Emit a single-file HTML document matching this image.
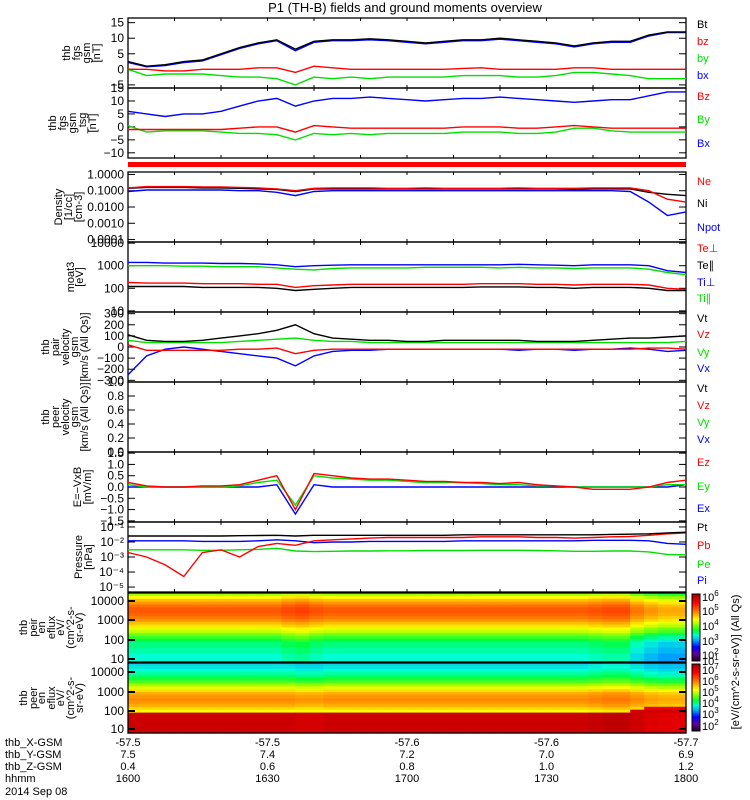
<!DOCTYPE html>
<html><head><meta charset="utf-8"><style>
html,body{margin:0;padding:0;background:#fff;}
svg{display:block;font-family:"Liberation Sans",sans-serif;}
</style></head><body>
<svg id="fig" width="750" height="800" viewBox="0 0 750 800"></svg>
<script>
// ---------- data ----------
const times = [0,4,8,12,16,20,24,28,32,36,40,44,48,52,56,60,64,68,72,76,80,84,88,92,96,100,104,108,112,116,120];
const fgsBt = [2.5,1,1.5,2.5,3,5,7,8.5,9.5,6.5,9,9.5,9.5,9.8,9.5,9,8.5,9,9.5,9.5,10,9.5,9,8.5,7.5,8.5,9,9,11,12,12];
const fgsBx = [2.2,0.8,1.2,2.2,2.7,4.7,6.7,8.2,9.2,6.0,8.7,9.2,9.2,9.5,9.2,8.7,8.2,8.7,9.2,9.2,9.7,9.2,8.7,8.2,7.2,8.2,8.7,8.7,10.7,11.8,11.8];
const fgsBz = [0,0,-0.5,-0.5,0,0,0,0.5,0.5,-1,1,0.5,0,0,0,0,0,0,0.3,0.5,0,0,0,0,0.5,0.5,0,0,0,0,0];
const fgsBy = [0,-2,-1.5,-1.5,-1.5,-2,-2.5,-2.5,-3,-5,-2.5,-3,-2.5,-3,-2.5,-2.5,-2.5,-2.5,-2,-2,-2,-2.5,-2.5,-2,-1,-1,-1.5,-2,-3,-3,-3];
const dslBx = [6,5,4,5,5,6,8,10,11,8,10,11,11,11.5,11,10.5,10,10.5,11,11,11.5,11,10.5,10,9.5,10,10.5,10.5,12,13.5,13.5];
const dslBz = [-1,-1,-1,-1,-1,-1,-0.5,0,0,-2,0.5,0,-0.5,-0.5,-0.5,-0.5,-0.5,-0.5,0,0,0,-0.5,-0.5,0,0.5,0,-0.5,-0.5,-0.5,-0.5,-0.5];
const dslBy = [0.5,-2,-1.5,-1.5,-1.5,-2,-2.5,-2.5,-3,-5,-2.5,-3,-2.5,-3,-2.5,-2.5,-2.5,-2.5,-2,-2,-2,-2.5,-2.5,-2,-0.5,-0.5,-1.5,-2,-2,-2,-2];
const densNe = [0.15,0.18,0.18,0.18,0.17,0.17,0.16,0.15,0.13,0.1,0.14,0.15,0.15,0.15,0.14,0.14,0.15,0.14,0.14,0.14,0.14,0.15,0.14,0.14,0.14,0.15,0.15,0.15,0.1,0.03,0.02];
const densNi = [0.14,0.16,0.16,0.16,0.15,0.15,0.14,0.13,0.12,0.09,0.13,0.13,0.13,0.13,0.13,0.13,0.13,0.13,0.13,0.13,0.13,0.13,0.13,0.13,0.12,0.13,0.13,0.13,0.08,0.06,0.05];
const densNpot = [0.09,0.11,0.11,0.11,0.11,0.11,0.1,0.1,0.08,0.05,0.09,0.1,0.1,0.1,0.1,0.1,0.1,0.1,0.1,0.1,0.1,0.1,0.1,0.1,0.1,0.1,0.1,0.09,0.02,0.003,0.005];
const tempTiPerp = [1400,1400,1300,1300,1300,1250,1250,1200,1100,900,1000,1050,1100,1100,1100,1100,1100,1100,1100,1100,1100,1150,1100,1050,1000,1100,1100,1100,1000,600,500];
const tempTiPar = [1000,1000,1000,950,950,900,900,900,800,700,650,750,800,800,800,800,850,850,850,850,800,850,800,800,750,800,800,800,700,500,400];
const tempTePerp = [180,170,170,170,160,160,160,150,150,110,130,140,150,150,150,150,150,150,150,160,160,160,150,150,140,150,150,150,140,100,90];
const tempTePar = [120,120,120,120,110,110,110,110,100,80,90,100,110,110,110,110,110,110,110,115,115,115,110,110,100,110,110,110,100,80,80];
const velVt = [110,60,50,50,60,80,100,120,150,200,120,80,70,60,60,50,50,60,60,60,60,60,50,50,50,60,70,80,80,90,100];
const velVx = [-250,-80,-20,0,-20,-40,-60,-80,-100,-170,-80,-40,-30,-30,-20,-20,-20,-20,-20,-20,-20,-30,-20,-20,-30,-20,-20,-10,-20,-40,-30];
const velVy = [60,40,40,40,40,40,50,60,70,80,60,50,50,40,40,40,40,40,40,40,40,40,40,40,40,40,40,40,40,40,50];
const velVz = [20,-30,-30,-30,-30,-30,-20,-20,-10,-60,-30,-20,-20,-20,-20,-20,-20,-20,-20,-20,-20,-20,-20,-20,-20,-20,-20,-20,-10,-10,-20];
const efEz = [0.2,0.05,0,0,0.05,0.05,0.1,0.3,0.5,-1,0.6,0.5,0.4,0.35,0.35,0.3,0.25,0.25,0.2,0.2,0.15,0.2,0.1,0.05,0,-0.1,-0.1,-0.1,0,0.2,0.3];
const efEy = [0.1,0,0,0,0,0,0.05,0.2,0.3,-0.8,0.5,0.4,0.35,0.3,0.3,0.25,0.2,0.2,0.2,0.15,0.1,0.1,0.05,0.05,0,0,0,0,0,0.1,0.1];
const efEx = [0,0,0,0,0,0,0,0,0.1,-1.2,0.1,0,0,0,0,0,0,0,0,0,0,0,0,0,0,0,0,0,0,0,0.1];
const presPt = [0.025,0.025,0.025,0.025,0.025,0.025,0.026,0.027,0.028,0.025,0.028,0.028,0.028,0.028,0.028,0.028,0.028,0.028,0.03,0.03,0.03,0.03,0.03,0.03,0.03,0.03,0.032,0.033,0.035,0.04,0.045];
const presPb = [2e-3,1e-3,3e-4,5e-5,2e-3,3e-3,1e-3,5e-3,8e-3,6e-3,1.2e-2,1.4e-2,1.6e-2,1.8e-2,2e-2,2e-2,2e-2,2e-2,2e-2,2.2e-2,2.2e-2,2.2e-2,2e-2,2e-2,1.8e-2,2e-2,2.2e-2,2.3e-2,2.8e-2,3.5e-2,4e-2];
const presPi = [0.012,0.012,0.012,0.012,0.011,0.011,0.011,0.012,0.014,0.012,0.009,0.01,0.01,0.011,0.011,0.011,0.011,0.011,0.012,0.012,0.012,0.012,0.012,0.012,0.012,0.013,0.013,0.013,0.012,0.008,0.007];
const presPe = [3e-3,3e-3,3e-3,3e-3,2.8e-3,2.8e-3,3e-3,3.2e-3,3.8e-3,2.5e-3,2.3e-3,2.4e-3,2.5e-3,2.5e-3,2.6e-3,2.6e-3,2.7e-3,2.7e-3,2.7e-3,2.8e-3,2.8e-3,2.8e-3,2.7e-3,2.6e-3,2.4e-3,2.4e-3,2.5e-3,2.5e-3,2.2e-3,1.5e-3,1.4e-3];
const ionLevels = [0.55,0.62,0.68,0.72,0.76,0.78,0.78,0.77,0.75,0.72,0.68,0.64,0.6,0.57,0.52,0.48,0.45,0.42,0.42,0.4,0.4,0.38,0.38,0.38];
const ionTimeMod = [0,0,0,0,0,0,0,0,0,0,0,0.02,0.03,0.01,0,0,0,0,0,0,0,0,0,0,0,0,0,0,0,0,0,0,0,0.01,0.02,0.02,-0.03,-0.06,-0.08,-0.08];
const elecLevels = [0.35,0.36,0.38,0.4,0.43,0.46,0.5,0.55,0.6,0.65,0.7,0.72,0.73,0.72,0.7,0.66,0.62,0.95,0.95,0.95,0.95,0.95,0.95,0.95];
const elecTimeMod = [0,0,0,0,0,0,0,0,0,0,0,0,-0.01,-0.01,0,0,0,0,0,0,0,0,0,0,0,0,0,0,0,0,0,0,0,0.01,0.02,0.02,0,-0.02,-0.03,-0.03];
const xTickHhmm = ["1600","1630","1700","1730","1800"];
const xTickX = ["-57.5","-57.5","-57.6","-57.6","-57.7"];
const xTickY = ["7.5","7.4","7.2","7.0","6.9"];
const xTickZ = ["0.4","0.6","0.8","1.0","1.2"];

// ---------- layout ----------
const svg = document.getElementById('fig');
const NS = 'http://www.w3.org/2000/svg';
const X0 = 128, X1 = 686, TMAX = 120;
const xs = t => X0 + t / TMAX * (X1 - X0);
function mk(tag, attrs, parent) {
  const e = document.createElementNS(NS, tag);
  for (const k in attrs) e.setAttribute(k, attrs[k]);
  (parent || svg).appendChild(e);
  return e;
}
function txt(s, x, y, attrs, parent) {
  const e = mk('text', Object.assign({x: x, y: y, 'font-size': 12}, attrs || {}), parent);
  e.textContent = s;
  return e;
}

let t = txt('P1 (TH-B) fields and ground moments overview', 405, 12, {'text-anchor': 'middle', 'font-size': 13});



function panel(name, top, bot, yfun, ticks, labels, lblX, rightLabels) {
  const g = mk('g', {});
  
  
  const box = mk('rect', {x: X0, y: top, width: X1 - X0, height: bot - top, fill: 'none', stroke: '#000', 'stroke-width': 1.3}, g);
  
  
  for (let m = 0; m <= 120; m += 10) {
    const tk = mk('line', {x1: xs(m), x2: xs(m), y1: top, y2: top + 3, stroke: '#000'}, g);
    
    
    const tk2 = mk('line', {x1: xs(m), x2: xs(m), y1: bot, y2: bot - 3, stroke: '#000'}, g);
    
    
  }
  ticks.forEach(v => {
    const y = yfun(v.v);
    const l = mk('line', {x1: X0, x2: X0 + 7, y1: y, y2: y, stroke: '#000'}, g);
    
    
    const l2 = mk('line', {x1: X1, x2: X1 - 7, y1: y, y2: y, stroke: '#000'}, g);
    
    
    const tl = txt(v.s, 124, y + 4, {'text-anchor': 'end', 'font-size': 12}, g);
    
    
  });
  const cy = (top + bot) / 2;
  labels.forEach((s, i) => {
    const bx = lblX[i];
    const e = txt(s, bx, cy, {'text-anchor': 'middle', 'font-size': 11, transform: 'rotate(-90 ' + bx + ' ' + cy + ')'}, g);
    
    
  });
  rightLabels.forEach(r => {
    const e = txt(r[0], 697, r[1], {fill: r[2], 'font-size': 11}, g);
    
    
  });
  return g;
}
function series(g, vals, yfun, color, name) {
  const pts = vals.map((v, i) => xs(times[i]).toFixed(1) + ',' + yfun(v).toFixed(1)).join(' ');
  const p = mk('polyline', {points: pts, fill: 'none', stroke: color, 'stroke-width': 1.4}, g);
  
  
}
const lin = (top, bot, lo, hi) => v => bot - (v - lo) / (hi - lo) * (bot - top);
const lg = (top, bot, lo, hi) => v => bot - (Math.log10(Math.max(v, 1e-12)) - lo) / (hi - lo) * (bot - top);

const BLK = '#000', RED = '#ff0000', GRN = '#00e000', BLU = '#0000ff';

// Panel 1
let y1 = lin(18, 88, -6, 16.5);
let g1 = panel('fgs-gsm', 18, 88, y1, [{v:15,s:'15'},{v:10,s:'10'},{v:5,s:'5'},{v:0,s:'0'},{v:-5,s:'−5'}],
  ['thb','fgs','gsm','[nT]'], [70,80,90,100], [['Bt',28,BLK],['bz',45,RED],['by',62,GRN],['bx',79,BLU]]);
series(g1, fgsBy, y1, GRN, 'series-by'); series(g1, fgsBz, y1, RED, 'series-bz');
series(g1, fgsBx, y1, BLU, 'series-bx'); series(g1, fgsBt, y1, BLK, 'series-bt');

// Panel 2
let y2 = lin(88, 158, -12, 15);
let g2 = panel('fgs-dsl', 88, 158, y2, [{v:15,s:'15'},{v:10,s:'10'},{v:5,s:'5'},{v:0,s:'0'},{v:-5,s:'−5'},{v:-10,s:'−10'}],
  ['thb','fgs','gsm','_tsg','[nT]'], [56,66,76,86,96], [['Bz',100,RED],['By',123,GRN],['Bx',147,BLU]]);
series(g2, dslBy, y2, GRN, 'series-by'); series(g2, dslBz, y2, RED, 'series-bz'); series(g2, dslBx, y2, BLU, 'series-bx');

// red flag bar
let bar = mk('rect', {x: X0, y: 162, width: X1 - X0, height: 5, fill: RED});



// Density
let y3 = lg(172, 242, -4.15, 0.15);
let g3 = panel('density', 172, 242, y3, [{v:1,s:'1.0000'},{v:0.1,s:'0.1000'},{v:0.01,s:'0.0100'},{v:0.001,s:'0.0010'},{v:0.0001,s:'0.0001'}],
  ['Density','[1/cc]','[cm-3]'], [62,72,82], [['Ne',185,RED],['Ni',207,BLK],['Npot',231,BLU]]);
series(g3, densNpot, y3, BLU, 'series-npot'); series(g3, densNi, y3, BLK, 'series-ni'); series(g3, densNe, y3, RED, 'series-ne');

// Temperature
let y4 = lg(242, 312, 0.95, 4.05);
let g4 = panel('temperature', 242, 312, y4, [{v:10000,s:'10000'},{v:1000,s:'1000'},{v:100,s:'100'},{v:10,s:'10'}],
  ['moat3','[eV]'], [74,83], [['Te⊥',252,RED],['Te∥',269,BLK],['Ti⊥',286,BLU],['Ti∥',302,GRN]]);
series(g4, tempTiPar, y4, GRN, 'series-ti-par'); series(g4, tempTiPerp, y4, BLU, 'series-ti-perp');
series(g4, tempTePerp, y4, RED, 'series-te-perp'); series(g4, tempTePar, y4, BLK, 'series-te-par');

// Velocity
let y5 = lin(312, 382, -315, 315);
let g5 = panel('ion-velocity', 312, 382, y5, [{v:300,s:'300'},{v:200,s:'200'},{v:100,s:'100'},{v:0,s:'0'},{v:-100,s:'−100'},{v:-200,s:'−200'},{v:-300,s:'−300'}],
  ['thb','pair','velocity','gsm','[km/s (All Qs)]'], [49,59,69,78,88], [['Vt',322,BLK],['Vz',338,RED],['Vy',356,GRN],['Vx',372,BLU]]);
series(g5, velVx, y5, BLU, 'series-vx'); series(g5, velVy, y5, GRN, 'series-vy');
series(g5, velVz, y5, RED, 'series-vz'); series(g5, velVt, y5, BLK, 'series-vt');

// Electron velocity (empty)
let y6 = lin(382, 452, 0, 1);
panel('electron-velocity', 382, 452, y6, [{v:1,s:'1.0'},{v:0.8,s:'0.8'},{v:0.6,s:'0.6'},{v:0.4,s:'0.4'},{v:0.2,s:'0.2'},{v:0,s:'0.0'}],
  ['thb','peer','velocity','gsm','[km/s (All Qs)]'], [49,59,69,78,88], [['Vt',392,BLK],['Vz',409,RED],['Vy',426,GRN],['Vx',443,BLU]]);

// E field
let y7 = lin(452, 522, -1.55, 1.55);
let g7 = panel('efield', 452, 522, y7, [{v:1.5,s:'1.5'},{v:1,s:'1.0'},{v:0.5,s:'0.5'},{v:0,s:'0.0'},{v:-0.5,s:'−0.5'},{v:-1,s:'−1.0'},{v:-1.5,s:'−1.5'}],
  ['E=−VxB','[mV/m]'], [81,91], [['Ez',466,RED],['Ey',490,GRN],['Ex',512,BLU]]);
series(g7, efEx, y7, BLU, 'series-ex'); series(g7, efEy, y7, GRN, 'series-ey'); series(g7, efEz, y7, RED, 'series-ez');

// Pressure
let y8 = lg(522, 592, -5.33, -0.67);
let g8 = panel('pressure', 522, 592, y8, [{v:0.1,s:'10⁻¹'},{v:0.01,s:'10⁻²'},{v:0.001,s:'10⁻³'},{v:0.0001,s:'10⁻⁴'},{v:0.00001,s:'10⁻⁵'}],
  ['Pressure','[nPa]'], [82,92], [['Pt',531,BLK],['Pb',549,RED],['Pe',568,GRN],['Pi',584,BLU]]);
series(g8, presPe, y8, GRN, 'series-pe'); series(g8, presPi, y8, BLU, 'series-pi');
series(g8, presPb, y8, RED, 'series-pb'); series(g8, presPt, y8, BLK, 'series-pt');

// ---------- spectrograms ----------
const stops = [[0,[40,0,40]],[0.1,[100,0,160]],[0.2,[0,0,255]],[0.3,[0,160,255]],[0.38,[0,255,210]],[0.45,[0,255,60]],[0.55,[160,255,0]],[0.62,[255,255,0]],[0.7,[255,170,0]],[0.78,[255,90,0]],[0.88,[255,0,0]],[1,[170,0,0]]];
function cmap(v) {
  v = Math.max(0, Math.min(1, v));
  for (let i = 1; i < stops.length; i++) {
    if (v <= stops[i][0]) {
      const a = stops[i-1], b = stops[i], f = (v - a[0]) / (b[0] - a[0]);
      const c = a[1].map((q, k) => Math.round(q + (b[1][k] - q) * f));
      return 'rgb(' + c.join(',') + ')';
    }
  }
  return 'rgb(170,0,0)';
}
function spectro(name, top, bot, levels, mods, ticks, labels, lblX) {
  const g = mk('g', {});
  
  
  const nr = levels.length, nc = mods.length;
  const rh = (bot - top) / nr, cw = (X1 - X0) / nc;
  levels.forEach((lv, r) => {
    mods.forEach((md, c) => {
      let v = lv + md;
      if (name === 'electron' && c >= 36 && r === 16) v = 0.95;
      if (name === 'electron' && c >= 37 && r === 15) v = 0.9;
      const cell = mk('rect', {x: (X0 + c * cw).toFixed(2), y: (top + r * rh).toFixed(2), width: (cw + 0.6).toFixed(2), height: (rh + 0.6).toFixed(2), fill: cmap(v)}, g);
      
      
    });
  });
  const box = mk('rect', {x: X0, y: top, width: X1 - X0, height: bot - top, fill: 'none', stroke: '#000', 'stroke-width': 1.3}, g);
  
  
  ticks.forEach(tk => {
    const l = mk('line', {x1: X0, x2: X0 + 7, y1: tk[1], y2: tk[1], stroke: '#000', 'stroke-width': 2}, g);
    
    
    const l2 = mk('line', {x1: X1, x2: X1 - 7, y1: tk[1], y2: tk[1], stroke: '#000', 'stroke-width': 2}, g);
    
    
    const tl = txt(tk[0], 124, tk[1] + 4, {'text-anchor': 'end'}, g);
    
    
  });
  const cy = (top + bot) / 2;
  labels.forEach((s, i) => {
    const e = txt(s, lblX[i], cy, {'text-anchor': 'middle', 'font-size': 11, transform: 'rotate(-90 ' + lblX[i] + ' ' + cy + ')'}, g);
    
    
  });
}
spectro('ion', 593, 662, ionLevels, ionTimeMod, [['10000',601],['1000',620],['100',640],['10',659]],
  ['thb','peir','en','eflux','eV/','(cm^2-s-','sr-eV)'], [27,37,45,55,64,74,83]);
spectro('electron', 663, 733, elecLevels, elecTimeMod, [['10000',672],['1000',692],['100',711],['10',729]],
  ['thb','peer','en','eflux','eV/','(cm^2-s-','sr-eV)'], [27,37,45,55,64,74,83]);

// colorbars
function cbar(name, top, bot, labs) {
  const n = 40, h = (bot - top) / n;
  for (let i = 0; i < n; i++) {
    const r = mk('rect', {x: 692, y: (top + i * h).toFixed(2), width: 8, height: (h + 0.5).toFixed(2), fill: cmap(1 - i / (n - 1))});
    
    
  }
  const b = mk('rect', {x: 692, y: top, width: 8, height: bot - top, fill: 'none', stroke: '#000'});
  
  
  labs.forEach(l => {
    const e = txt('10', 702, l[1] + 4, {'font-size': 11});
    const s = mk('tspan', {dy: -5, 'font-size': 8}, e);
    s.textContent = l[0];
    
    
  });
}
cbar('ion-colorbar', 594, 661, [['6',597],['5',611],['4',626],['3',641],['2',655],['1',661]]);
cbar('electron-colorbar', 664, 731, [['7',670],['6',681],['5',692],['4',703],['3',714],['2',726]]);
let cu = txt('[eV/(cm^2-s-sr-eV)] (All Qs)', 739, 662, {'text-anchor': 'middle', 'font-size': 11, transform: 'rotate(-90 739 662)'});



// bottom annotation
const rowsY = [746, 758, 770, 782];
const rowNames = ['thb_X-GSM', 'thb_Y-GSM', 'thb_Z-GSM', 'hhmm'];
const rowVals = [xTickX, xTickY, xTickZ, xTickHhmm];
rowNames.forEach((n, i) => {
  const e = txt(n, 5, rowsY[i], {'font-size': 11});
  
  
  rowVals[i].forEach((v, k) => {
    const x = xs(k * 30);
    const tv = txt(v, x, rowsY[i], {'text-anchor': 'middle', 'font-size': 11});
    
    
  });
});
let dt = txt('2014 Sep 08', 5, 795, {'font-size': 11});


</script>
</body></html>
